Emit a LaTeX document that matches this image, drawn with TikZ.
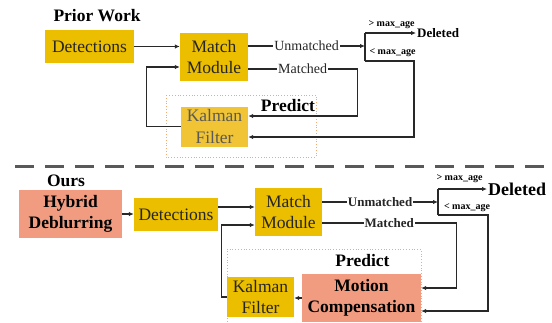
\documentclass[tikz,border=0pt]{standalone}
\usepackage{fontspec}
\setmainfont{Liberation Serif}
\usetikzlibrary{arrows.meta}
\definecolor{gold}{RGB}{236,190,0}
\definecolor{goldlt}{RGB}{240,196,52}
\definecolor{salmon}{RGB}{241,156,128}
\definecolor{dotor}{RGB}{244,170,110}
\definecolor{sepgray}{RGB}{89,89,89}
\definecolor{ln}{RGB}{40,40,40}
\tikzset{
  box/.style={draw=none, inner sep=0pt, align=center, font=\fontsize{17.5}{21.5}\selectfont, text=black!85},
  goldbox/.style={box, fill=gold},
  salbox/.style={box, fill=salmon, text=black, font=\fontsize{17.5}{21}\selectfont\bfseries},
  conn/.style={draw=ln, line width=1.2pt, -{Latex[length=5pt,width=4.5pt]}},
  plainln/.style={draw=ln, line width=1.2pt},
  lab/.style={fill=white, inner sep=1pt, text=black!85, font=\fontsize{14}{16}\selectfont},
  labb/.style={fill=white, inner sep=1pt, text=black!85, font=\fontsize{13}{15}\selectfont\bfseries},
  smalllab/.style={font=\fontsize{10}{12}\selectfont\bfseries, inner sep=0pt},
  titlelab/.style={font=\fontsize{17.5}{20}\selectfont\bfseries, inner sep=0pt},
  predbox/.style={draw=dotor, dotted, line width=0.8pt},
}
\begin{document}
\begin{tikzpicture}[x=1pt,y=-1pt]
\useasboundingbox (0,0) rectangle (552,322);

% ---------------- Prior Work ----------------
\node[titlelab] (tprior) at (97,16) {Prior Work};
\draw[predbox] (166,95) rectangle (316,157);
\node[goldbox, minimum width=89pt, minimum height=33pt] (det1) at (89.5,46.5) {Detections};
\node[goldbox, minimum width=68pt, minimum height=48pt] (match1) at (214,57) {Match\\Module};
\node[box, fill=goldlt, text=black!65, minimum width=67pt, minimum height=40pt] (kal1) at (214.5,126.5) {Kalman\\Filter};
\node[titlelab] (pred1) at (288,106) {Predict};

\coordinate (br1) at (365,46);
\coordinate (br1t) at (365,33);
\coordinate (br1b) at (365,61);
\node[anchor=west, inner sep=1pt, font=\fontsize{13}{15}\selectfont\bfseries] (del1) at (416,33) {Deleted};
\node[smalllab] (gt1) at (391.5,25) {> max\_age};
\node[smalllab] (lt1) at (392.5,53) {< max\_age};

\draw[conn] (det1.east) -- (det1.east -| match1.west);
\draw[conn] (kal1.west) -- ++(-34,0) |- ([yshift=-10pt]match1.west);
\draw[conn] ([yshift=11pt]match1.east) -- node[lab] {Unmatched} (br1);
\draw[plainln] (br1b) -- (br1t);
\draw[conn] (br1t) -- (del1.west);
\draw[conn] (br1b) -- ++(49,0) |- ([yshift=-10.5pt]kal1.east);
\draw[conn] ([yshift=-12pt]match1.east) -- node[lab] {Matched} ++(109,0) |- ([yshift=10.5pt]kal1.east);

% ---------------- separator ----------------
\draw[sepgray, line width=3pt, dash pattern=on 19pt off 11pt] (15,166) -- (552,166);

% ---------------- Ours ----------------
\node[titlelab] (tours) at (66,181) {Ours};
\draw[predbox] (227,322) -- (227,249) -- (421,249) -- (421,322);
\node[salbox, minimum width=103pt, minimum height=48pt] (hyb) at (70.5,214) {Hybrid\\Deblurring};
\node[goldbox, minimum width=84pt, minimum height=33pt] (det2) at (176,214.5) {Detections};
\node[goldbox, minimum width=67pt, minimum height=48pt] (match2) at (288.5,212) {Match\\Module};
\node[goldbox, minimum width=67pt, minimum height=40pt] (kal2) at (260.5,297) {Kalman\\Filter};
\node[salbox, minimum width=119pt, minimum height=48pt] (mot) at (361.5,298) {Motion\\Compensation};
\node[titlelab] (pred2) at (362.5,261) {Predict};

\coordinate (br2) at (438,202);
\coordinate (br2t) at (438,189);
\coordinate (br2b) at (438,215);
\node[anchor=west, inner sep=1pt, font=\fontsize{18}{20}\selectfont\bfseries] (del2) at (487,189) {Deleted};
\node[smalllab] (gt2) at (459.5,179) {> max\_age};
\node[smalllab] (lt2) at (467,208) {< max\_age};

\draw[conn] (hyb.east) -- (hyb.east -| det2.west);
\draw[conn] ([yshift=7.5pt]det2.east) -- ([yshift=7.5pt]det2.east -| match2.west);
\draw[conn] (kal2.west) -- ++(-5,0) |- ([yshift=-13pt]match2.west);
\draw[conn] (mot.west) -- (mot.west -| kal2.east);
\draw[conn] ([yshift=10pt]match2.east) -- node[labb] {Unmatched} (br2);
\draw[plainln] (br2b) -- (br2t);
\draw[conn] (br2t) -- (del2.west);
\draw[conn] (br2b) -- ++(50,0) |- ([yshift=-13pt]mot.east);
\draw[conn] ([yshift=-11pt]match2.east) -- node[labb] {Matched} ++(134,0) |- ([yshift=10pt]mot.east);
\end{tikzpicture}
\end{document}
